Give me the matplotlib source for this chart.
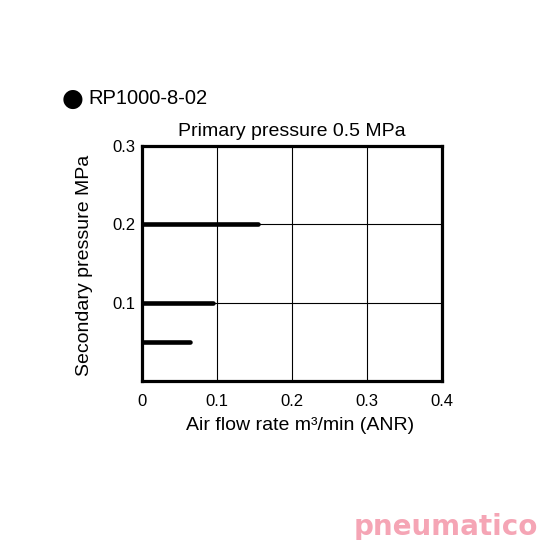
import matplotlib
matplotlib.use('Agg')
import matplotlib.pyplot as plt

plt.rcParams['font.family'] = ['Liberation Sans', 'DejaVu Sans']

# secondary pressure curves (MPa) vs air flow (m3/min ANR)
flow_02 = [0.0, 0.05, 0.1, 0.155]
press_02 = [0.2, 0.2, 0.2, 0.2]
flow_01 = [0.0, 0.05, 0.095]
press_01 = [0.1, 0.1, 0.1]
flow_005 = [0.0, 0.03, 0.064]
press_005 = [0.05, 0.05, 0.05]

x_ticks = [0, 0.1, 0.2, 0.3, 0.4]
x_labels = ['0', '0.1', '0.2', '0.3', '0.4']
y_ticks = [0.1, 0.2, 0.3]
y_labels = ['0.1', '0.2', '0.3']

fig = plt.figure(figsize=(5.4, 5.4), dpi=100)
ax = fig.add_axes([0.263, 0.2944, 0.5556, 0.4352])

for fx, py in [(flow_02, press_02), (flow_01, press_01), (flow_005, press_005)]:
    ax.plot(fx, py, color='black', lw=3.3, solid_capstyle='round', zorder=3)

ax.set_xlim(0, 0.4)
ax.set_ylim(0, 0.3)
ax.set_xticks(x_ticks)
ax.set_xticklabels(x_labels)
ax.set_yticks(y_ticks)
ax.set_yticklabels(y_labels)
ax.tick_params(length=0, labelsize=12)
ax.tick_params(axis='x', pad=9)
ax.tick_params(axis='y', pad=5)
ax.grid(True, color='black', lw=0.8)
for s in ax.spines.values():
    s.set_linewidth(2.3)

ax.set_xlabel('Air flow rate m³/min (ANR)', fontsize=14)
ax.xaxis.set_label_coords(0.527, -0.155)
ax.set_ylabel('Secondary pressure MPa', fontsize=14)
ax.yaxis.set_label_coords(-0.165, 0.49)
ax.set_title('Primary pressure 0.5 MPa', fontsize=14, pad=7)

fig.text(0.115, 0.817, '●', fontsize=18, va='center', ha='left', family=['DejaVu Sans'])
fig.text(0.163, 0.817, 'RP1000-8-02', fontsize=14.5, va='center', ha='left')

fig.text(0.997, 0.024, 'pneumatico', fontsize=20, fontweight='bold', color='#f5a5b5',
         ha='right', va='center', family=['DejaVu Sans'])

fig.savefig('out.png', dpi=100, facecolor='white')
